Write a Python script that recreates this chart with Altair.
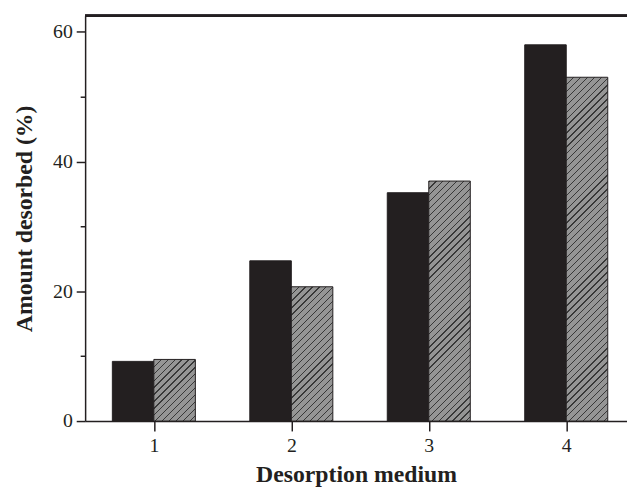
import altair as alt
import pandas as pd
import math

# ---- data ----
medium = [1, 2, 3, 4]
series_a = [9.2, 24.7, 35.2, 58.0]   # solid black bars
series_b = [9.5, 20.7, 37.0, 53.0]   # hatched grey bars
x_ticks = [1, 1.5, 2, 2.5, 3, 3.5, 4]
y_ticks = [0, 10, 20, 30, 40, 50, 60]

# ---- layout / style constants ----
WIDTH, HEIGHT = 548, 410
XMIN, XMAX = 0.5, 4.442
YMAX = 62.5
BAR_W = 0.302
INK = "#231f20"
GREY = "#959595"
LINE = "#383838"
FONT = "Liberation Serif"

rows = []
for m, a, b in zip(medium, series_a, series_b):
    rows.append({"medium": m, "series": "A", "value": a})
    rows.append({"medium": m, "series": "B", "value": b})
df = pd.DataFrame(rows)

base = alt.Chart(df).transform_calculate(
    xs=f"datum.series == 'A' ? datum.medium - {BAR_W} : datum.medium",
    xe=f"datum.series == 'A' ? datum.medium : datum.medium + {BAR_W}",
)

xscale = alt.Scale(domain=[XMIN, XMAX], nice=False, zero=False)
yscale = alt.Scale(domain=[0, YMAX], nice=False)

xaxis = alt.Axis(
    values=x_ticks,
    labelExpr="datum.value % 1 === 0 ? datum.label : ''",
    format="d",
    tickSize={"condition": {"test": "datum.value % 1 === 0", "value": 10}, "value": 3},
    title="Desorption medium",
    titleFont=FONT, titleFontSize=24, titleFontWeight="bold", titleColor=INK,
    titlePadding=7,
    labelFont=FONT, labelFontSize=20, labelColor=INK, labelPadding=5,
    labelFlush=False, labelOverlap=False,
    grid=False, domainColor=INK, domainWidth=1.5, tickColor=INK, tickWidth=1.5,
)
yaxis = alt.Axis(
    values=y_ticks,
    labelExpr="datum.value % 20 === 0 ? datum.label : ''",
    tickSize={"condition": {"test": "datum.value % 20 === 0", "value": 9}, "value": 5},
    title="Amount desorbed (%)",
    titleFont=FONT, titleFontSize=24, titleFontWeight="bold", titleColor=INK,
    titlePadding=16,
    labelFont=FONT, labelFontSize=20, labelColor=INK, labelPadding=4,
    labelFlush=False, labelOverlap=False,
    grid=False, domainColor=INK, domainWidth=1.5, tickColor=INK, tickWidth=1.5,
)

black = base.transform_filter("datum.series == 'A'").mark_bar(
    color=INK, stroke=INK, strokeWidth=1
).encode(
    x=alt.X("xs:Q", scale=xscale, axis=xaxis),
    x2="xe:Q",
    y=alt.Y("value:Q", scale=yscale, axis=yaxis),
    y2=alt.datum(0),
)

# hatched fill: diagonal stripes built as a linear gradient per bar
pxx = WIDTH / (XMAX - XMIN)
pxy = HEIGHT / YMAX
PERIOD, LINE_W = 7.0, 1.3


def hatch(v):
    W = BAR_W * pxx
    H = v * pxy
    k_norm = W / (W * W + H * H)
    stops = []
    smax = W + H
    n = int(math.ceil(smax / PERIOD)) + 1
    for k in range(n):
        a = k * PERIOD
        b = a + LINE_W
        c = (k + 1) * PERIOD
        for off, col in ((a, LINE), (b, LINE), (b, GREY), (c, GREY)):
            stops.append(alt.GradientStop(offset=min(1.0, off * k_norm), color=col))
    return alt.LinearGradient(gradient="linear", stops=stops,
                              x1=0, y1=0, x2=1, y2=H / W)


layers = [black]
for m, b in zip(medium, series_b):
    layers.append(
        base.transform_filter(f"datum.series == 'B' && datum.medium == {m}")
        .mark_bar(stroke=INK, strokeWidth=1)
        .encode(
            x=alt.X("xs:Q", scale=xscale),
            x2="xe:Q",
            y=alt.Y("value:Q", scale=yscale),
            y2=alt.datum(0),
            fill=alt.value(hatch(b)),
        )
    )

top_line = alt.Chart(df).mark_rule(color=INK, strokeWidth=2).encode(
    y=alt.datum(YMAX, scale=yscale)
)
layers.append(top_line)

chart = alt.layer(*layers).properties(
    width=WIDTH, height=HEIGHT,
    padding={"left": 78, "top": 5, "right": 0, "bottom": 67},
    autosize=alt.AutoSizeParams(type="none"),
    background="white",
).configure_view(strokeWidth=0)

chart.save("out.html", embed_options={"renderer": "svg", "actions": False})
